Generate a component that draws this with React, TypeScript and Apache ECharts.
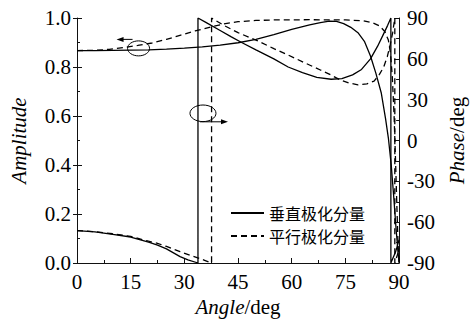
import React, { useEffect, useRef } from "react";
import * as echarts from "echarts";

// Amplitude (left axis), perpendicular component (solid)
const angleAmpPerp = [0, 5, 10, 15, 20, 25, 30, 35, 40, 45, 50, 55, 60, 65, 68, 70.5, 72.5, 74.5, 76.5, 78.5, 80.3, 82, 83.5, 85, 86.2, 87, 87.8, 88.5, 89.1, 89.6, 90];
const ampPerp = [0.867, 0.867, 0.868, 0.869, 0.87, 0.873, 0.877, 0.882, 0.889, 0.899, 0.913, 0.932, 0.954, 0.972, 0.981, 0.987, 0.986, 0.977, 0.962, 0.94, 0.905, 0.845, 0.775, 0.695, 0.59, 0.51, 0.4, 0.27, 0.15, 0.06, 0];

// Phase (right axis, deg), perpendicular component (solid)
const anglePhasePerp = [0, 5, 10, 15, 20, 22.5, 25, 28.8, 31, 33.8, 33.8, 36, 40, 43, 46, 50, 55, 59, 63, 67, 71, 74, 77, 79.5, 82, 84, 85.5, 86.8, 87.7, 87.7, 89, 90];
const phasePerp = [-66.2, -67.1, -68.9, -70.9, -74.7, -76.9, -79.6, -85.3, -87.7, -90, 90, 86.8, 80.8, 76.3, 72, 66.6, 60, 54, 49.9, 46.4, 45, 45.5, 48.2, 52.2, 60, 69.3, 77.4, 84.6, 90, -90, -82, -73];

// Amplitude (left axis), parallel component (dashed)
const angleAmpPara = [0, 5, 9, 13, 17, 21, 25, 29, 33, 37, 41, 45, 50, 55, 65, 75, 80, 82.5, 84.5, 86, 87, 87.6, 88.1, 88.6, 89, 89.4, 89.7, 90];
const ampPara = [0.867, 0.868, 0.872, 0.879, 0.888, 0.898, 0.913, 0.93, 0.947, 0.962, 0.976, 0.985, 0.99, 0.992, 0.993, 0.992, 0.989, 0.981, 0.968, 0.945, 0.91, 0.856, 0.76, 0.6, 0.42, 0.22, 0.08, 0];

// Phase (right axis, deg), parallel component (dashed)
const anglePhasePara = [0, 5, 10, 15, 20, 22.5, 25, 28.8, 31.5, 34.2, 36, 37.6, 37.6, 41, 45, 50, 55, 59, 63.5, 68, 71, 73.5, 76, 78.5, 81, 83, 84.5, 85.7, 86.7, 87.5, 88.2, 88.8, 88.8, 90];
const phasePara = [-66.2, -67, -68.5, -70.5, -74, -75.6, -77.8, -81.7, -84.3, -86.6, -88.4, -90, 90, 84.6, 79.2, 73.8, 67.5, 62.8, 57.2, 51.8, 48.1, 44.5, 42.3, 40.9, 41.6, 43.6, 48.6, 54, 61.6, 70.2, 79.2, 90, -90, -80];

const xTicks = { min: 0, max: 90, interval: 15 };
const ampTicks = { min: 0, max: 1, interval: 0.2 };
const phaseTicks = { min: -90, max: 90, interval: 30 };

const legendNames = ["垂直极化分量", "平行极化分量"];

const zip = (a: number[], b: number[]) => a.map((x, i) => [x, b[i]]);

const SERIF = "Liberation Serif";
const CJK = "Noto Sans CJK SC";
const FS = 21;

export default function App() {
  const ref = useRef<HTMLDivElement>(null);
  useEffect(() => {
    if (!ref.current) return;
    const chart = echarts.init(ref.current, undefined, { renderer: "svg" });
    const axisCommon = {
      axisLine: { show: true, onZero: false, lineStyle: { color: "#111", width: 1 } },
      axisTick: { show: true, inside: true, length: 5, lineStyle: { color: "#111" } },
      minorTick: { show: true, splitNumber: 2, length: 3, lineStyle: { color: "#111" } },
      splitLine: { show: false },
      minorSplitLine: { show: false },
    };
    const lineSolid = { color: "#000", width: 1.3, type: "solid" as const };
    const lineDash = { color: "#000", width: 1.3, type: [6, 4] as any };
    const numRich = { n: { fontFamily: SERIF, fontSize: FS, color: "#000" } };
    const nameStyle = {
      fontFamily: SERIF,
      fontSize: FS,
      color: "#000",
      rich: { i: { fontFamily: SERIF, fontSize: FS, fontStyle: "italic", color: "#000" } },
    };
    const option: any = {
      animation: false,
      textStyle: { fontFamily: SERIF },
      grid: { left: 77, right: 66, top: 18, bottom: 62, containLabel: false },
      legend: {
        data: legendNames,
        orient: "vertical",
        left: 225,
        top: 200,
        itemWidth: 33,
        itemHeight: 14,
        itemGap: 7,
        itemStyle: { opacity: 0, color: "transparent", borderWidth: 0 },
        textStyle: { fontFamily: CJK, fontSize: 16, color: "#000", lineHeight: 16 },
      },
      xAxis: {
        type: "value",
        ...xTicks,
        ...axisCommon,
        axisLabel: {
          fontFamily: SERIF,
          fontSize: FS,
          color: "#000",
          margin: 8,
          formatter: (v: number) => `{n|${v}}`,
          rich: numRich,
        },
        name: "{i|Angle}/deg",
        nameLocation: "middle",
        nameGap: 27,
        nameTextStyle: nameStyle,
      },
      yAxis: [
        {
          type: "value",
          position: "left",
          ...ampTicks,
          ...axisCommon,
          axisLabel: {
            fontFamily: SERIF,
            fontSize: FS,
            color: "#000",
            margin: 6,
            formatter: (v: number) => `{n|${v.toFixed(1)}}`,
            rich: numRich,
          },
          name: "{i|Amplitude}",
          nameLocation: "middle",
          nameRotate: 90,
          nameGap: 48,
          nameTextStyle: nameStyle,
        },
        {
          type: "value",
          position: "right",
          ...phaseTicks,
          ...axisCommon,
          axisLabel: {
            fontFamily: SERIF,
            fontSize: FS,
            color: "#000",
            margin: 8,
            formatter: (v: number) => `{n|${v}}`,
            rich: numRich,
          },
          name: "{i|Phase}/deg",
          nameLocation: "middle",
          nameRotate: 90,
          nameGap: 36,
          nameTextStyle: nameStyle,
        },
        {
          type: "value",
          position: "left",
          ...ampTicks,
          axisLine: { show: false },
          axisTick: { show: true, inside: false, length: 4, lineStyle: { color: "#111" } },
          axisLabel: { show: false },
          splitLine: { show: false },
        },
      ],
      series: [
        {
          name: legendNames[0],
          type: "line",
          yAxisIndex: 0,
          data: zip(angleAmpPerp, ampPerp),
          showSymbol: false,
          symbol: "none",
          lineStyle: lineSolid,
          itemStyle: { color: "#000" },
        },
        {
          name: legendNames[0],
          type: "line",
          yAxisIndex: 1,
          data: zip(anglePhasePerp, phasePerp),
          showSymbol: false,
          symbol: "none",
          lineStyle: lineSolid,
          itemStyle: { color: "#000" },
        },
        {
          name: legendNames[1],
          type: "line",
          yAxisIndex: 0,
          data: zip(angleAmpPara, ampPara),
          showSymbol: false,
          symbol: "none",
          lineStyle: lineDash,
          itemStyle: { color: "#000" },
        },
        {
          name: legendNames[1],
          type: "line",
          yAxisIndex: 1,
          data: zip(anglePhasePara, phasePara),
          showSymbol: false,
          symbol: "none",
          lineStyle: lineDash,
          itemStyle: { color: "#000" },
        },
      ],
    };
    chart.setOption(option);

    // annotations: ellipses marking curves, arrows pointing to the axis they belong to
    const c1 = chart.convertToPixel({ xAxisIndex: 0, yAxisIndex: 0 }, [17.2, 0.876]) as number[];
    const c2 = chart.convertToPixel({ xAxisIndex: 0, yAxisIndex: 0 }, [35.2, 0.611]) as number[];
    const stroke = { stroke: "#000", lineWidth: 1, fill: "none" };
    const a1y = c1[1] - 9;
    const a2y = c2[1] + 8.5;
    chart.setOption({
      graphic: [
        { type: "ellipse", shape: { cx: c1[0], cy: c1[1], rx: 11, ry: 7.5 }, style: stroke, silent: true },
        { type: "line", shape: { x1: c1[0] - 6, y1: a1y, x2: c1[0] - 18, y2: a1y }, style: { stroke: "#000", lineWidth: 1 }, silent: true },
        {
          type: "polygon",
          shape: { points: [[c1[0] - 22, a1y], [c1[0] - 15, a1y - 2.5], [c1[0] - 15, a1y + 2.5]] },
          style: { fill: "#000" },
          silent: true,
        },
        { type: "ellipse", shape: { cx: c2[0], cy: c2[1], rx: 13, ry: 8.3 }, style: stroke, silent: true },
        { type: "line", shape: { x1: c2[0] - 3, y1: a2y, x2: c2[0] + 21, y2: a2y }, style: { stroke: "#000", lineWidth: 1 }, silent: true },
        {
          type: "polygon",
          shape: { points: [[c2[0] + 25, a2y], [c2[0] + 18, a2y - 2.5], [c2[0] + 18, a2y + 2.5]] },
          style: { fill: "#000" },
          silent: true,
        },
      ],
    });
    return () => chart.dispose();
  }, []);
  return (
    <div
      ref={ref}
      style={{ position: "fixed", left: 0, top: 0, width: 475, height: 325, background: "#fff" }}
    />
  );
}
